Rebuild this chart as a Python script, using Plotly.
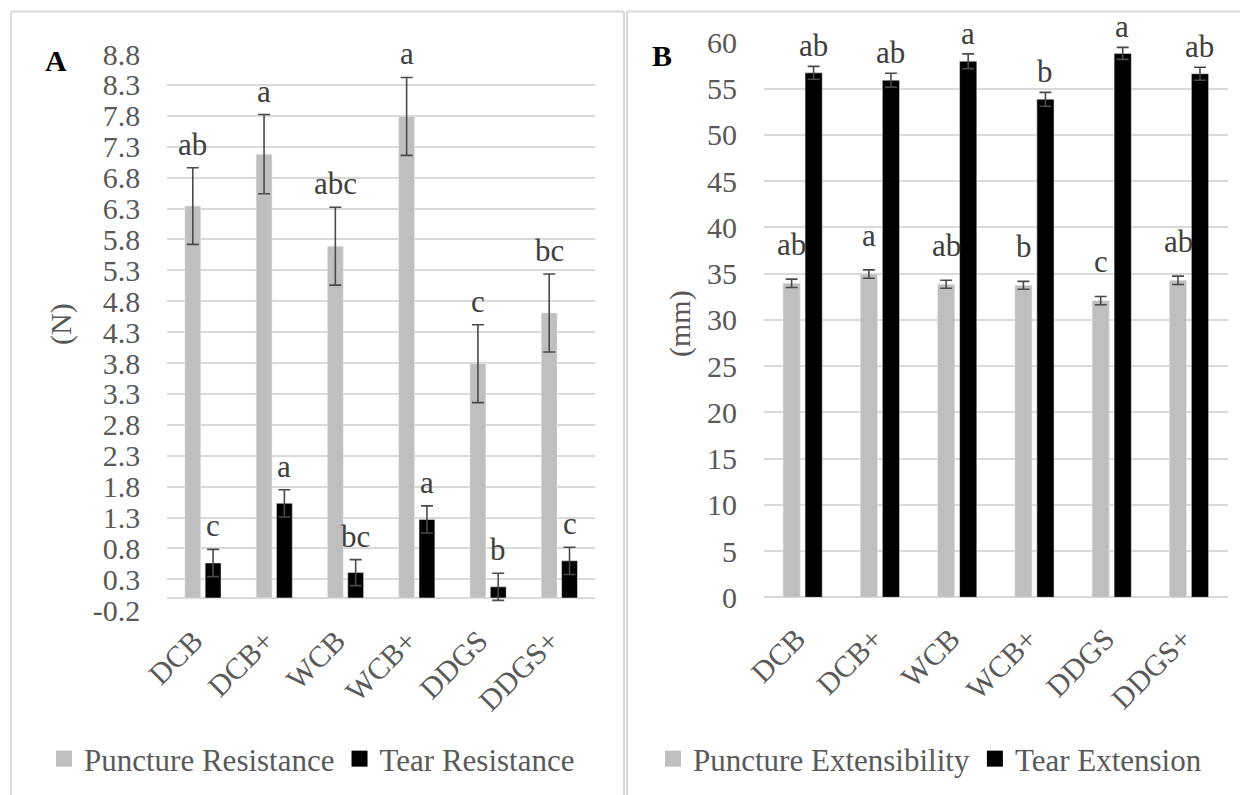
import plotly.graph_objects as go
from plotly.subplots import make_subplots

categories = ["DCB", "DCB+", "WCB", "WCB+", "DDGS", "DDGS+"]

# Panel A (N)
puncture_res = [6.34, 7.18, 5.69, 7.79, 3.79, 4.61]
puncture_res_err = [0.62, 0.64, 0.63, 0.63, 0.63, 0.63]
puncture_res_letters = ["ab", "a", "abc", "a", "c", "bc"]
tear_res = [0.565, 1.53, 0.41, 1.27, 0.18, 0.60]
tear_res_err = [0.22, 0.22, 0.21, 0.22, 0.22, 0.22]
tear_res_letters = ["c", "a", "bc", "a", "b", "c"]
a_ticks = [-0.2, 0.3, 0.8, 1.3, 1.8, 2.3, 2.8, 3.3, 3.8, 4.3, 4.8, 5.3, 5.8, 6.3, 6.8, 7.3, 7.8, 8.3, 8.8]

# Panel B (mm)
puncture_ext = [33.95, 34.95, 33.84, 33.73, 32.07, 34.27]
puncture_ext_err = [0.45, 0.45, 0.43, 0.42, 0.45, 0.45]
puncture_ext_letters = ["ab", "a", "ab", "b", "c", "ab"]
tear_ext = [56.7, 55.9, 57.95, 53.84, 58.8, 56.6]
tear_ext_err = [0.7, 0.75, 0.8, 0.75, 0.65, 0.7]
tear_ext_letters = ["ab", "ab", "a", "b", "a", "ab"]
b_ticks = [0, 5, 10, 15, 20, 25, 30, 35, 40, 45, 50, 55, 60]

# page body has an 8px margin; size the figure to fit the window exactly
OFF = 8
W, H = 1248 - OFF, 795 - OFF
GREY = "#BFBFBF"
BLACK = "#000000"
TXT = "#595959"
GRID = "#D9D9D9"
FONT = "Liberation Serif"
FS = 30


def px(x):
    return (x - OFF) / W


def py(y):
    return 1 - (y - OFF) / H


fig = make_subplots(rows=1, cols=2)


def err(vals):
    return dict(type="data", array=vals, visible=True, color="#4a4a4a", thickness=1.6, width=6)


def bar(vals, errs, name, color, col):
    fig.add_trace(go.Bar(x=categories, y=vals, name=name, marker_color=color,
                         error_y=err(errs), showlegend=False), row=1, col=col)


def legend_item(name, color, col, legend):
    fig.add_trace(go.Scatter(x=[None], y=[None], mode="markers", name=name,
                             marker=dict(symbol="square", size=16, color=color),
                             legend=legend, showlegend=True), row=1, col=col)


bar(puncture_res, puncture_res_err, "Puncture Resistance", GREY, 1)
bar(tear_res, tear_res_err, "Tear Resistance", BLACK, 1)
bar(puncture_ext, puncture_ext_err, "Puncture Extensibility", GREY, 2)
bar(tear_ext, tear_ext_err, "Tear Extension", BLACK, 2)
legend_item("Puncture Resistance", GREY, 1, "legend")
legend_item("Tear Resistance", BLACK, 1, "legend")
legend_item("Puncture Extensibility", GREY, 2, "legend2")
legend_item("Tear Extension", BLACK, 2, "legend2")

LFS = 31
fig.update_layout(
    width=W, height=H,
    margin=dict(l=0, r=0, t=0, b=0, pad=0, autoexpand=False),
    paper_bgcolor="white", plot_bgcolor="white",
    barmode="group", bargap=0.43, bargroupgap=0.22,
    font=dict(family=FONT, size=FS, color=TXT),
    showlegend=True,
    legend=dict(orientation="h", x=px(44), xanchor="left", y=py(759), yanchor="middle",
                font=dict(family=FONT, size=LFS, color=TXT), bgcolor="rgba(0,0,0,0)",
                traceorder="normal", itemsizing="trace"),
    legend2=dict(orientation="h", x=px(653), xanchor="left", y=py(759), yanchor="middle",
                 font=dict(family=FONT, size=LFS, color=TXT), bgcolor="rgba(0,0,0,0)",
                 traceorder="normal", itemsizing="trace"),
)

fig.update_xaxes(row=1, col=1, domain=[px(167.3), px(595)])
fig.update_xaxes(row=1, col=2, domain=[px(764), px(1227.6)])
fig.update_xaxes(showgrid=False, showline=False, ticks="", tickangle=-45, automargin=False,
                 zeroline=False, tickfont=dict(family=FONT, size=FS, color=TXT))
fig.update_xaxes(row=1, col=1, ticklabelstandoff=6, ticklabelshift=-9)
fig.update_xaxes(row=1, col=2, ticklabelstandoff=17, ticklabelshift=-6)

fig.update_yaxes(row=1, col=1, domain=[py(610.3), py(54)], range=[-0.2, 8.8],
                 tickvals=a_ticks, ticktext=[f"{v:.1f}" for v in a_ticks])
fig.update_yaxes(row=1, col=2, domain=[py(597.3), py(42.3)], range=[0, 60],
                 tickvals=b_ticks, ticktext=[str(v) for v in b_ticks])
fig.update_yaxes(showgrid=True, gridcolor=GRID, gridwidth=1.5, zeroline=True, automargin=False,
                 zerolinecolor=GRID, zerolinewidth=2, showline=False, ticks="",
                 ticklabelstandoff=26, tickfont=dict(family=FONT, size=FS, color=TXT))

annotations = []


def letters(xref, yref, vals, errs, labels, shift, lift):
    for c, v, e, t in zip(categories, vals, errs, labels):
        annotations.append(dict(x=c, y=v + e, xref=xref, yref=yref, text=t, showarrow=False,
                                xshift=shift, yshift=lift, yanchor="bottom", xanchor="center",
                                font=dict(family=FONT, size=31, color="#404040")))


letters("x", "y", puncture_res, puncture_res_err, puncture_res_letters, -10.2, 4)
letters("x", "y", tear_res, tear_res_err, tear_res_letters, 10.2, 4)
letters("x2", "y2", puncture_ext, puncture_ext_err, puncture_ext_letters, -10.8, 15)
letters("x2", "y2", tear_ext, tear_ext_err, tear_ext_letters, 10.8, 1)

annotations += [
    dict(x=px(56), y=py(60), xref="paper", yref="paper", text="<b>A</b>", showarrow=False,
         xanchor="center", yanchor="middle", font=dict(family=FONT, size=FS, color="black")),
    dict(x=px(662), y=py(56), xref="paper", yref="paper", text="<b>B</b>", showarrow=False,
         xanchor="center", yanchor="middle", font=dict(family=FONT, size=FS, color="black")),
    dict(x=px(61), y=py(324), xref="paper", yref="paper", text="(N)", textangle=-90, showarrow=False,
         xanchor="center", yanchor="middle", font=dict(family=FONT, size=FS, color=TXT)),
    dict(x=px(680), y=py(324), xref="paper", yref="paper", text="(mm)", textangle=-90, showarrow=False,
         xanchor="center", yanchor="middle", font=dict(family=FONT, size=FS, color=TXT)),
]
fig.update_layout(annotations=annotations)

border = dict(color=GRID, width=2)
shapes = [
    dict(type="line", xref="paper", yref="paper", x0=px(11), x1=px(624), y0=py(11.5), y1=py(11.5), line=border),
    dict(type="line", xref="paper", yref="paper", x0=px(11), x1=px(11), y0=py(11.5), y1=0, line=border),
    dict(type="line", xref="paper", yref="paper", x0=px(624), x1=px(624), y0=py(11.5), y1=0, line=border),
    dict(type="line", xref="paper", yref="paper", x0=px(627), x1=1, y0=py(11.5), y1=py(11.5), line=border),
    dict(type="line", xref="paper", yref="paper", x0=px(627), x1=px(627), y0=py(11.5), y1=0, line=border),
]
fig.update_layout(shapes=shapes)

fig.write_html("out.html")
